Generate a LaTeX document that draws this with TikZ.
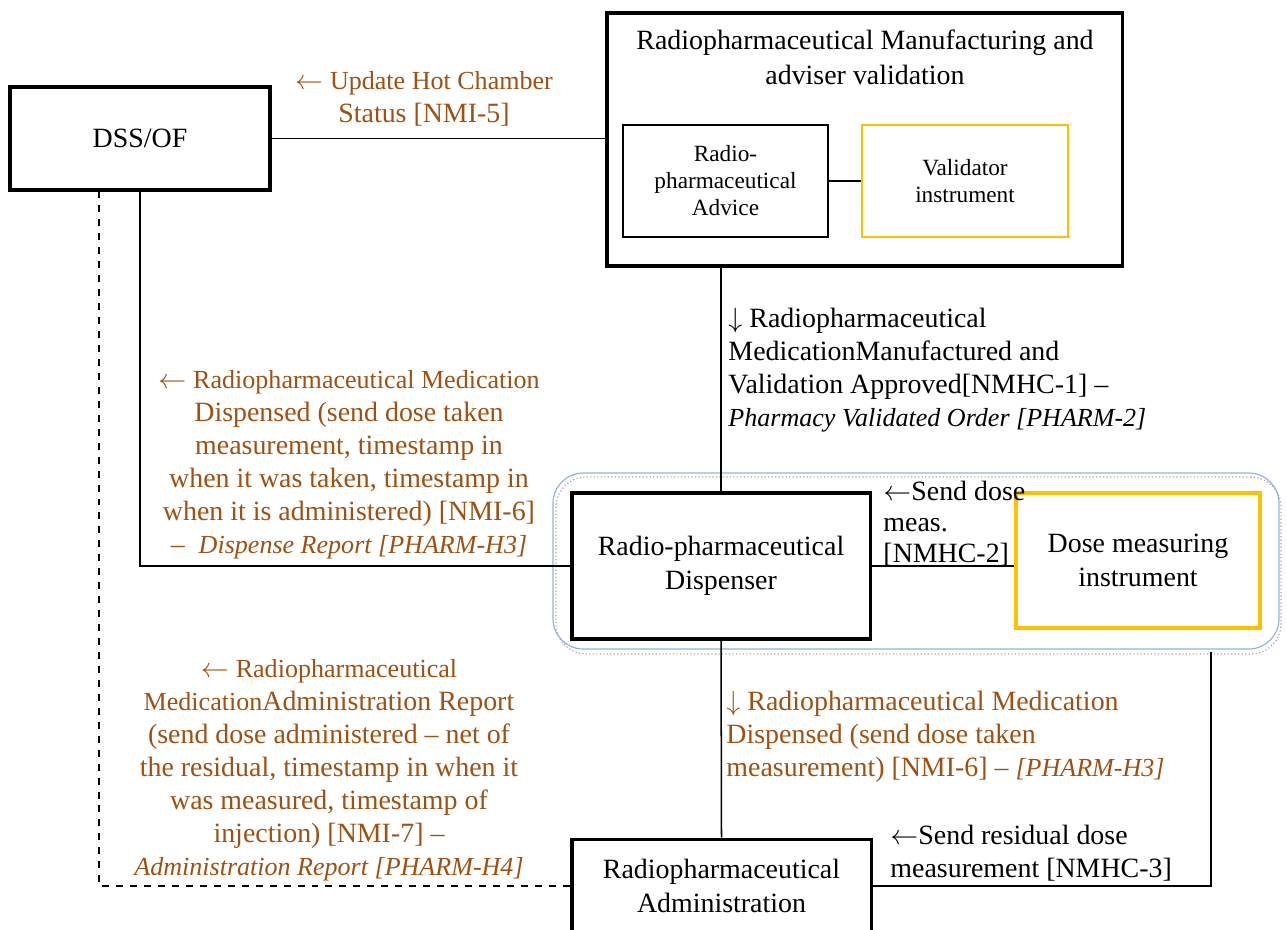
\documentclass[tikz,border=0pt]{standalone}
\usepackage{fontspec}
\setmainfont{Liberation Serif}
\usetikzlibrary{calc}
\definecolor{brn}{RGB}{160,80,16}
\definecolor{amber}{RGB}{255,192,0}
\definecolor{grpblue}{RGB}{141,179,226}
\definecolor{grpbrown}{RGB}{190,150,150}
\newcommand{\larr}{\(\leftarrow\)}
\newcommand{\darr}{\(\downarrow\)}
\newcommand{\reftag}[1]{{\fontsize{11.2}{14.2}\selectfont\itshape #1}}
\newcommand{\smallrun}[1]{{\fontsize{11.2}{14.2}\selectfont #1}}
\begin{document}
\begin{tikzpicture}[x=0.43pt,y=-0.43pt,
  txt/.style={inner sep=0pt,font=\fontsize{12}{14.2}\selectfont},
  bigbox/.style={draw,line width=1.3pt,inner sep=0pt,align=center,
    font=\fontsize{12}{14.6}\selectfont},
  subbox/.style={draw,line width=0.9pt,inner sep=0pt,align=center,
    font=\fontsize{10}{11.6}\selectfont},
  instr/.style={draw=amber,inner sep=0pt,align=center},
  link/.style={line width=0.65pt},
  msg/.style={txt,text=brn},
  grp/.style={rounded corners=13pt,inner sep=0pt}]
\useasboundingbox (0,0) rectangle (1287,929);
\clip (0,0) rectangle (1287,929);

% grouping frame round the dispenser and its measuring instrument
\node[grp,draw=grpbrown,densely dotted,line width=0.5pt,
  minimum width=311.75pt,minimum height=76.11pt] (grpb) at (918.5,565.5) {};
\node[grp,draw=grpblue,line width=0.5pt,
  minimum width=312.18pt,minimum height=75.68pt] (grp) at (916,561) {};

% main blocks
\node[bigbox,minimum width=111.8pt,minimum height=44.29pt] (dss) at (140,138.5) {DSS/OF};
\node[bigbox,minimum width=221.45pt,minimum height=108.79pt] (manuf) at (864.5,139.5) {};
\node[txt,align=center,font=\fontsize{12}{15}\selectfont] (manuftitle) at (865,57.5)
  {Radiopharmaceutical Manufacturing and\\adviser validation};
\node[subbox,minimum width=88.15pt,minimum height=48.16pt] (advice) at (725.5,181)
  {Radio-\\pharmaceutical\\Advice};
\node[subbox,instr,line width=0.9pt,minimum width=88.58pt,minimum height=48.16pt] (valid) at (965,181)
  {Validator\\instrument};
\node[bigbox,minimum width=128.14pt,minimum height=62.78pt] (disp) at (721,566)
  {Radio-pharmaceutical\\Dispenser};
\node[bigbox,instr,line width=1.5pt,minimum width=104.92pt,minimum height=58.05pt] (dose) at (1138,560.5)
  {Dose measuring\\instrument};
\node[bigbox,minimum width=128.57pt,minimum height=40.42pt] (admin) at (721.5,886)
  {Radiopharmaceutical\\Administration};

% connectors
\coordinate (dashtop) at ($(dss.south)+(-41,0)$);
\coordinate (tap) at (1211,652);
\draw[link] (dss.east) -- (dss.east -| manuf.west);
\draw[link] (advice.east) -- (valid.west);
\draw[link] (disp.north |- manuf.south) -- (disp.north);
\draw[link] (dss.south) |- (disp.west);
\draw[link,dashed] (dashtop) |- (admin.west);
\draw[link] (disp.east) -- (disp.east -| dose.west);
\draw[link] (disp.south) -- (admin.north);
\draw[link] (tap) |- (admin.east);

% message labels
\node[msg,align=center] (nmi5) at (424,99)
  {\larr\ \smallrun{Update Hot Chamber}\\Status [NMI-5]};
\node[txt,align=left,anchor=west] (nmhc1) at (728,370)
  {\darr\ Radiopharmaceutical\\MedicationManufactured and\\Validation Approved[NMHC-1] –\\\reftag{Pharmacy Validated Order [PHARM-2]}};
\node[msg,align=center] (nmi6a) at (349,465)
  {\larr\ \smallrun{Radiopharmaceutical Medication}\\Dispensed (send dose taken\\measurement, timestamp in\\when it was taken, timestamp in\\when it is administered) [NMI-6]\\–\ \ \reftag{Dispense Report [PHARM-H3]}};
\node[txt,align=left,anchor=west,font=\fontsize{12}{13.3}\selectfont] (nmhc2) at (883,524)
  {\larr Send dose\\meas.\\{}[NMHC-2]};
\node[msg,align=center] (nmi7) at (329,770.5)
  {\larr\ \smallrun{Radiopharmaceutical}\\\smallrun{Medication}Administration Report\\(send dose administered – net of\\the residual, timestamp in when it\\was measured, timestamp of\\injection) [NMI-7] –\\\reftag{Administration Report [PHARM-H4]}};
\node[msg,align=left,anchor=west] (nmi6b) at (726,736.5)
  {\darr\ Radiopharmaceutical Medication\\Dispensed (send dose taken\\measurement) [NMI-6] – \reftag{[PHARM-H3]}};
\node[txt,align=left,anchor=west] (nmhc3) at (890,853.5)
  {\larr Send residual dose\\measurement [NMHC-3]};
\end{tikzpicture}
\end{document}
